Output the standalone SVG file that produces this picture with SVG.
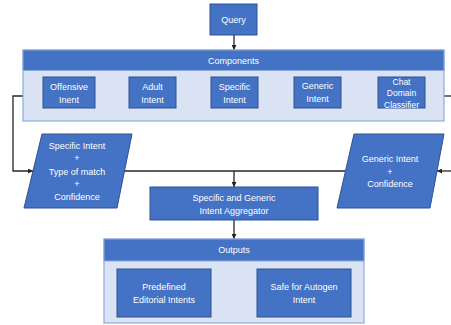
<svg xmlns="http://www.w3.org/2000/svg" width="451" height="325" viewBox="0 0 451 325">
<defs>
<marker id="ah" viewBox="0 0 6 6" refX="6" refY="3" markerWidth="5" markerHeight="5" orient="auto" markerUnits="userSpaceOnUse">
<path d="M0,0 L6,3 L0,6 z" fill="#262626"/>
</marker>
<style>
.b{fill:#4472C4;stroke:#2F528F;stroke-width:1}
.h{fill:#4472C4;stroke:#8FAADC;stroke-width:1}
.p{fill:#DAE3F3;stroke:#8FAADC;stroke-width:1.2}
.t{font-family:"Liberation Sans",Arial,sans-serif;font-size:9px;fill:#FFFFFF;text-anchor:middle}
.s{font-size:8.5px}
.c{fill:none;stroke:#262626;stroke-width:1.3}
</style>
</defs>
<rect width="451" height="325" fill="#FFFFFF"/>
<g id="connectors">
<path class="c" d="M234,35 V50" marker-end="url(#ah)"/>
<path class="c" d="M23,96 H13 V171 H33" marker-end="url(#ah)"/>
<path class="c" d="M444,96 H451"/>
<path class="c" d="M451,171 H437" marker-end="url(#ah)"/>
<path class="c" d="M122,171 H345"/>
<path class="c" d="M234,171 V187" marker-end="url(#ah)"/>
<path class="c" d="M234,220 V239" marker-end="url(#ah)"/>
</g>
<g id="query">
<rect class="b" x="210" y="4" width="47" height="31"/>
<text class="t" x="233.5" y="23">Query</text>
</g>
<g id="components">
<rect class="p" x="23" y="50" width="421" height="71"/>
<rect class="h" x="23" y="50" width="421" height="20.5"/>
<text class="t" x="233.5" y="64">Components</text>
</g>
<g id="offensive">
<rect class="b" x="43" y="77" width="52" height="31"/>
<text class="t" x="69" y="90">Offensive</text>
<text class="t" x="69" y="103">Inent</text>
</g>
<g id="adult">
<rect class="b" x="129" y="77" width="47" height="31"/>
<text class="t" x="152.5" y="90">Adult</text>
<text class="t" x="152.5" y="103">Intent</text>
</g>
<g id="specific">
<rect class="b" x="211" y="77" width="47" height="31"/>
<text class="t" x="234.5" y="90">Specific</text>
<text class="t" x="234.5" y="103">Intent</text>
</g>
<g id="generic">
<rect class="b" x="294" y="77" width="47" height="31"/>
<text class="t" x="317.5" y="89">Generic</text>
<text class="t" x="317.5" y="102">Intent</text>
</g>
<g id="chat">
<rect class="b" x="378" y="77" width="47" height="31"/>
<text class="t s" x="401.5" y="85">Chat</text>
<text class="t s" x="401.5" y="96">Domain</text>
<text class="t s" x="401.5" y="108">Classifier</text>
</g>
<g id="specific-out">
<polygon class="b" points="42,134 132,134 117,208 24,208"/>
<text class="t" x="77" y="149">Specific Intent</text>
<text class="t" x="77" y="161">+</text>
<text class="t" x="77" y="175">Type of match</text>
<text class="t" x="77" y="187">+</text>
<text class="t" x="77" y="200">Confidence</text>
</g>
<g id="generic-out">
<polygon class="b" points="354,134 444,134 430,208 337,208"/>
<text class="t" x="390" y="162">Generic Intent</text>
<text class="t" x="390" y="175">+</text>
<text class="t" x="390" y="187">Confidence</text>
</g>
<g id="aggregator">
<rect class="b" x="150" y="187" width="168" height="33"/>
<text class="t" x="234" y="201">Specific and Generic</text>
<text class="t" x="234" y="214">Intent Aggregator</text>
</g>
<g id="outputs">
<rect class="p" x="104" y="239" width="260" height="84"/>
<rect class="h" x="104" y="239" width="260" height="22"/>
<text class="t" x="234" y="253">Outputs</text>
</g>
<g id="predefined">
<rect class="b" x="117" y="269" width="94" height="48"/>
<text class="t" x="164" y="290">Predefined</text>
<text class="t" x="164" y="303">Editorial Intents</text>
</g>
<g id="safe">
<rect class="b" x="257" y="269" width="94" height="48"/>
<text class="t" x="304" y="290">Safe for Autogen</text>
<text class="t" x="304" y="303">Intent</text>
</g>
</svg>
